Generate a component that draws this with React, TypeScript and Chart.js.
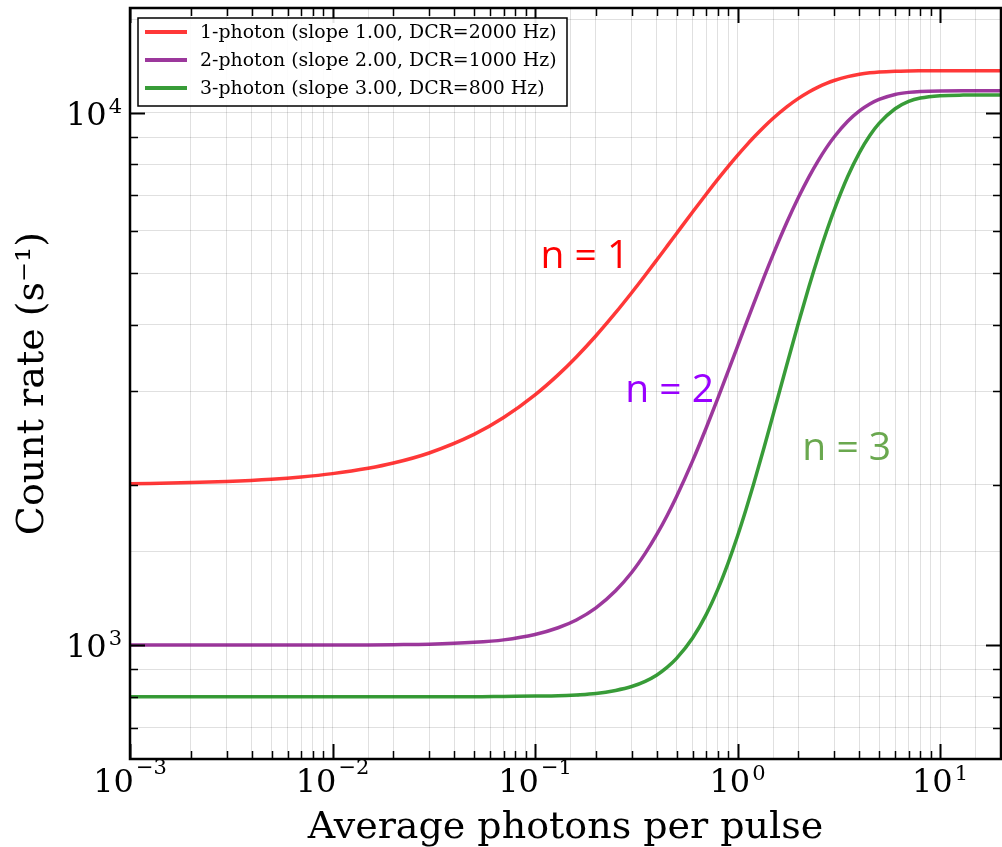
import React, { useEffect, useRef } from "react";
import { Chart, registerables } from "chart.js";

Chart.register(...registerables);

// ---- data ----
const photons = [
  0.001, 0.002, 0.003, 0.005, 0.007, 0.01, 0.015, 0.02, 0.03, 0.05, 0.07, 0.1, 0.13, 0.16, 0.2, 0.25, 0.3, 0.35,
  0.4, 0.45, 0.5, 0.6, 0.7, 0.8, 0.9, 1, 1.1, 1.2, 1.35, 1.5, 1.75, 2, 2.25, 2.5, 2.75, 3, 3.5, 4, 4.5, 5, 6, 7, 8,
  10, 13, 16, 20,
];
const onePhoton = [
  2010, 2020, 2030, 2050, 2070, 2100, 2149, 2198, 2296, 2488, 2676, 2952, 3219, 3479, 3813, 4212, 4592, 4953,
  5297, 5624, 5935, 6512, 7034, 7507, 7934, 8321, 8671, 8988, 9408, 9769, 10262, 10647, 10946, 11179, 11361, 11502,
  11698, 11817, 11889, 11933, 11975, 11991, 11997, 12000, 12000, 12000, 12000,
];
const twoPhoton = [
  1000, 1000, 1000, 1000, 1000, 1000, 1001, 1002, 1004, 1012, 1023, 1047, 1078, 1115, 1175, 1265, 1369, 1487,
  1616, 1754, 1902, 2219, 2558, 2912, 3275, 3642, 4010, 4374, 4908, 5422, 6221, 6940, 7575, 8127, 8603, 9009,
  9641, 10084, 10389, 10596, 10826, 10927, 10970, 10995, 11000, 11000, 11000,
];
const threePhoton = [
  800, 800, 800, 800, 800, 800, 800, 800, 800, 800, 801, 802, 803, 806, 811, 822, 836, 855,
  879, 909, 944, 1031, 1141, 1274, 1429, 1603, 1796, 2005, 2346, 2712, 3360, 4033, 4707, 5362, 5985, 6568,
  7592, 8419, 9064, 9553, 10180, 10504, 10662, 10772, 10798, 10800, 10800,
];
const seriesLabels = [
  "1-photon (slope 1.00, DCR=2000 Hz)",
  "2-photon (slope 2.00, DCR=1000 Hz)",
  "3-photon (slope 3.00, DCR=800 Hz)",
];
const seriesColors = ["rgba(255,0,0,0.78)", "rgba(128,0,128,0.78)", "rgba(0,128,0,0.78)"];

const annotationTexts = ["n = 1", "n = 2", "n = 3"];
const annotationColors = ["#ff0000", "#9900ff", "#6aa84f"];
const annotationAnchors = [
  [0.1763, 5117],
  [0.4616, 2868],
  [3.462, 2231],
];

const xTitle = "Average photons per pulse";
const yTitle = "Count rate (s\u207B\u00B9)";

const SERIF = "'DejaVu Serif', serif";
const BASE_FONT = "32px " + SERIF;
const EXP_FONT = "21px " + SERIF;

const isPow10 = (v: number) => {
  const l = Math.log10(v);
  return Math.abs(l - Math.round(l)) < 1e-9;
};
const expText = (v: number) => String(Math.round(Math.log10(v))).replace("-", "\u2212");

const frameTicksPlugin = {
  id: "frameTicks",
  afterDatasetsDraw(chart: any) {
    const { ctx, chartArea: a } = chart;
    ctx.save();
    ctx.strokeStyle = "#000";
    const drawFor = (scale: any, horiz: boolean) => {
      for (const t of scale.ticks) {
        const v = t.value;
        const e = Math.floor(Math.log10(v) + 1e-9);
        const sig = v / Math.pow(10, e);
        if (Math.abs(sig - Math.round(sig)) > 1e-6) continue;
        const major = Math.abs(sig - 1) < 1e-6;
        const len = major ? 15 : 8;
        ctx.lineWidth = major ? 2 : 1.5;
        const p = Math.round(scale.getPixelForValue(v)) + 0.5;
        ctx.beginPath();
        if (horiz) {
          ctx.moveTo(p, a.bottom); ctx.lineTo(p, a.bottom - len);
          ctx.moveTo(p, a.top); ctx.lineTo(p, a.top + len);
        } else {
          ctx.moveTo(a.left, p); ctx.lineTo(a.left + len, p);
          ctx.moveTo(a.right, p); ctx.lineTo(a.right - len, p);
        }
        ctx.stroke();
      }
    };
    drawFor(chart.scales.x, true);
    drawFor(chart.scales.y, false);
    ctx.lineWidth = 2.5;
    ctx.strokeRect(a.left, a.top, a.right - a.left, a.bottom - a.top);

    // tick labels (10 with superscript exponent)
    ctx.fillStyle = "#000";
    ctx.textBaseline = "alphabetic";
    ctx.textAlign = "left";
    const xs = chart.scales.x;
    for (const t of xs.ticks) {
      if (!isPow10(t.value)) continue;
      const ex = expText(t.value);
      ctx.font = BASE_FONT;
      const w1 = ctx.measureText("10").width;
      ctx.font = EXP_FONT;
      const w2 = ctx.measureText(ex).width;
      const px = xs.getPixelForValue(t.value);
      const start = px - (w1 + 2 + w2) / 2;
      const base = a.bottom + 33;
      ctx.font = BASE_FONT;
      ctx.fillText("10", start, base);
      ctx.font = EXP_FONT;
      ctx.fillText(ex, start + w1 + 2, base - (t.value < 1 ? 18 : 12));
    }
    const ys = chart.scales.y;
    for (const t of ys.ticks) {
      if (!isPow10(t.value)) continue;
      const ex = expText(t.value);
      ctx.font = BASE_FONT;
      const w1 = ctx.measureText("10").width;
      ctx.font = EXP_FONT;
      const w2 = ctx.measureText(ex).width;
      const py = ys.getPixelForValue(t.value);
      const right = a.left - 8;
      const base = py + 12;
      ctx.font = EXP_FONT;
      ctx.fillText(ex, right - w2, base - 12);
      ctx.font = BASE_FONT;
      ctx.fillText("10", right - w2 - 2 - w1, base);
    }

    // annotations
    ctx.textAlign = "center";
    ctx.textBaseline = "alphabetic";
    ctx.font = "39px 'Open Sans', sans-serif";
    annotationTexts.forEach((txt, i) => {
      ctx.fillStyle = annotationColors[i];
      const px = chart.scales.x.getPixelForValue(annotationAnchors[i][0]);
      const py = chart.scales.y.getPixelForValue(annotationAnchors[i][1]);
      ctx.fillText(txt, px, py);
    });

    // legend
    const lx = a.left + 8, ly = a.top + 10, lw = 429, lh = 88;
    ctx.fillStyle = "rgba(255,255,255,0.9)";
    ctx.fillRect(lx, ly, lw, lh);
    ctx.lineWidth = 1.5;
    ctx.strokeStyle = "#000";
    ctx.strokeRect(lx, ly, lw, lh);
    ctx.font = "18.9px " + SERIF;
    ctx.textAlign = "left";
    ctx.textBaseline = "middle";
    chart.data.datasets.forEach((ds: any, i: number) => {
      const y = ly + 14 + i * 28;
      ctx.strokeStyle = ds.borderColor;
      ctx.lineWidth = 4;
      ctx.beginPath();
      ctx.moveTo(lx + 7, y);
      ctx.lineTo(lx + 49, y);
      ctx.stroke();
      ctx.fillStyle = "#000";
      ctx.fillText(ds.label, lx + 62, y + 1);
    });
    ctx.restore();
  },
};

export default function App() {
  const ref = useRef<HTMLCanvasElement>(null);
  useEffect(() => {
    if (!ref.current) return;
    const mk = (vals: number[], i: number) => ({
      label: seriesLabels[i],
      data: photons.map((x, k) => ({ x, y: vals[k] })),
      borderColor: seriesColors[i],
      backgroundColor: seriesColors[i],
      borderWidth: 3.5,
      pointRadius: 0,
      cubicInterpolationMode: "monotone" as const,
      fill: false,
    });
    const chart = new Chart(ref.current, {
      type: "line",
      data: { datasets: [mk(onePhoton, 0), mk(twoPhoton, 1), mk(threePhoton, 2)] },
      options: {
        animation: false,
        responsive: false,
        maintainAspectRatio: false,
        layout: { padding: { top: 8, right: 1, left: 0, bottom: 0 } },
        plugins: { legend: { display: false }, tooltip: { enabled: false } },
        scales: {
          x: {
            type: "logarithmic",
            min: 0.001,
            max: 20,
            afterFit: (s: any) => { s.height = 88; s.paddingLeft = 0; s.paddingRight = 0; },
            grid: { color: "rgba(0,0,0,0.12)", lineWidth: 1, drawTicks: false },
            border: { display: false },
            ticks: { display: false, autoSkip: false },
            title: { display: true, text: xTitle, color: "#000", font: { family: SERIF, size: 38, lineHeight: 1.0 }, padding: { top: 0, bottom: 0 } },
          },
          y: {
            type: "logarithmic",
            min: 611,
            max: 15740,
            afterFit: (s: any) => { s.width = 130; s.paddingTop = 0; s.paddingBottom = 0; },
            grid: { color: "rgba(0,0,0,0.12)", lineWidth: 1, drawTicks: false },
            border: { display: false },
            ticks: { display: false, autoSkip: false },
            title: { display: true, text: yTitle, color: "#000", font: { family: SERIF, size: 38 }, padding: { top: 10, bottom: 0 } },
          },
        },
      },
      plugins: [frameTicksPlugin],
    });
    return () => chart.destroy();
  }, []);
  return (
    <div style={{ position: "absolute", left: 0, top: 0, width: 1002, height: 847, background: "#fff" }}>
      <canvas ref={ref} width={1002} height={847} style={{ display: "block" }} />
    </div>
  );
}
